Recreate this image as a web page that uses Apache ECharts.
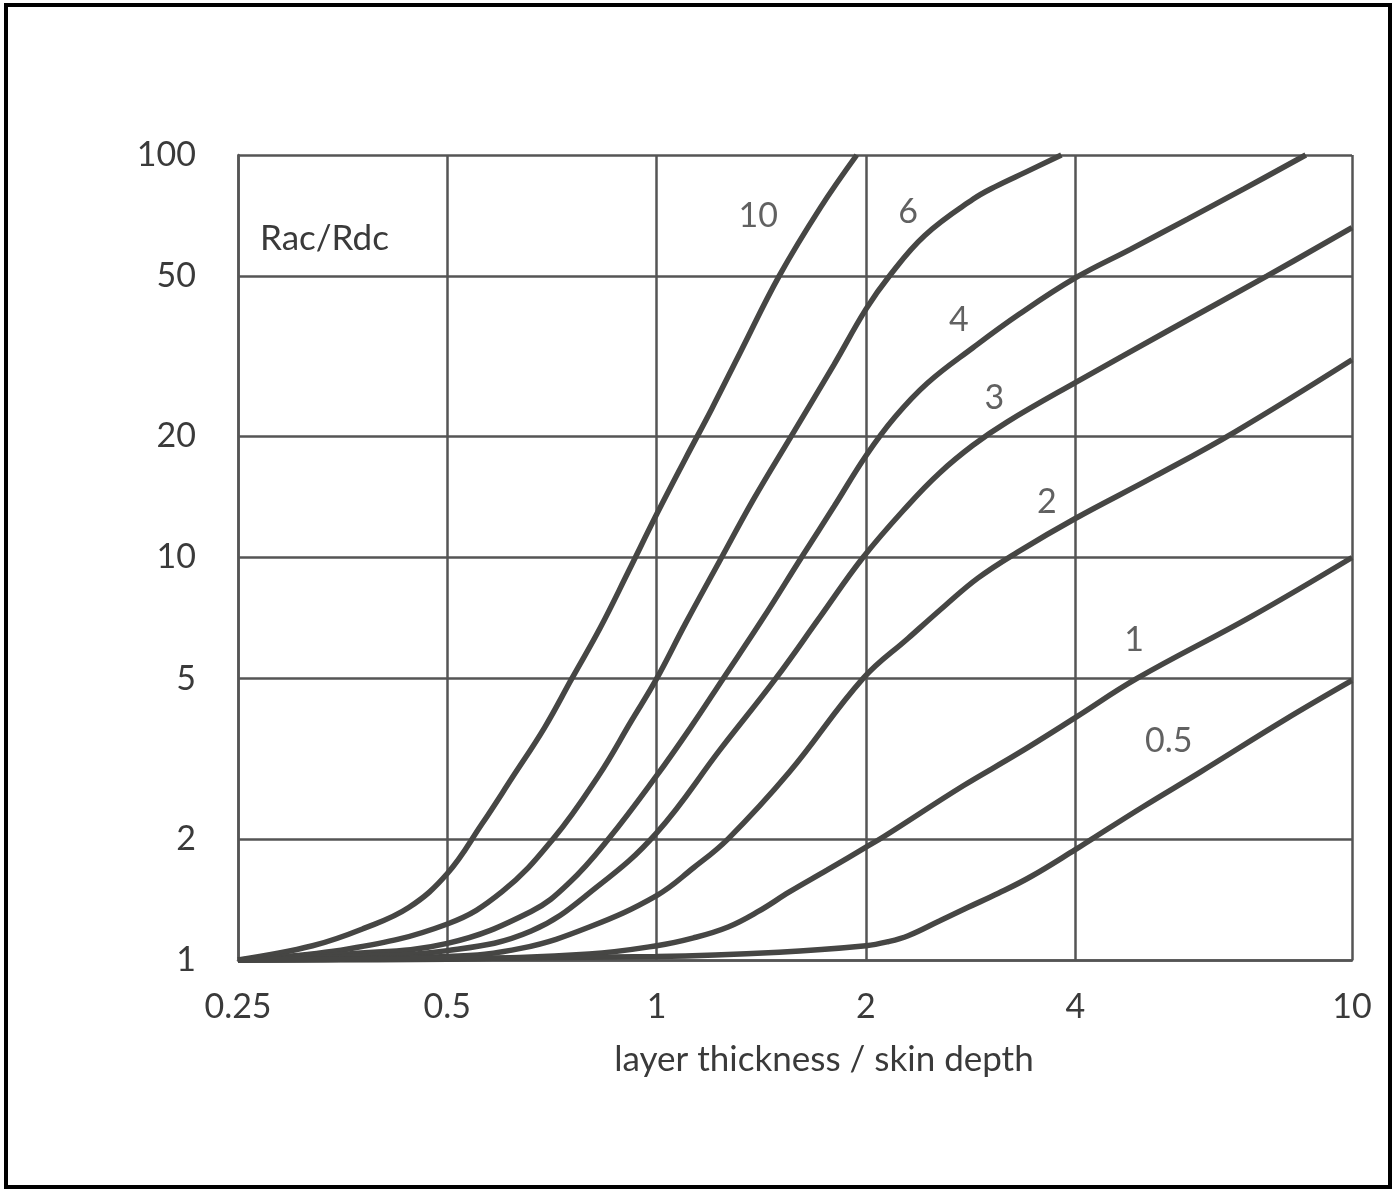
<!DOCTYPE html>
<html>
<head>
<meta charset="utf-8">
<script src="https://cdn.jsdelivr.net/npm/echarts@6/dist/echarts.min.js"></script>
<style>
  html, body { margin: 0; padding: 0; background: #ffffff; }
  #chart { width: 1395px; height: 1191px; }
</style>
</head>
<body>
<div id="chart"></div>
<script>
// ---- Data ----
const xTicks = [0.25, 0.5, 1, 2, 4, 10];
const yTicks = [1, 2, 5, 10, 20, 50, 100];

const curveNames = ['10', '6', '4', '3', '2', '1', '0.5'];

const x10 = [0.25, 0.32, 0.38, 0.44, 0.5, 0.56, 0.62, 0.69, 0.755, 0.83, 0.91, 1.0, 1.1, 1.2, 1.32, 1.5, 1.72, 1.94];
const y10 = [1, 1.085, 1.2, 1.35, 1.64, 2.17, 2.84, 3.78, 5, 6.7, 9.2, 12.8, 17.6, 23.4, 32.4, 50, 74, 100];

const x6 = [0.25, 0.36, 0.5, 0.6, 0.71, 0.825, 0.92, 1.0, 1.1, 1.232, 1.38, 1.561, 1.8, 2.0, 2.16, 2.43, 2.85, 3.08, 3.4, 3.82];
const y6 = [1, 1.065, 1.229, 1.48, 2, 2.87, 3.93, 5, 6.85, 9.8, 14, 20, 30.2, 41.4, 50, 63.1, 77.6, 83.7, 90.8, 100];

const x4 = [0.25, 0.36, 0.5, 0.66, 0.75, 0.853, 1.0, 1.12, 1.246, 1.42, 1.615, 1.8, 2.0, 2.2, 2.45, 2.85, 3.32, 4.0, 4.8, 5.8, 7.0, 8.58];
const y4 = [1, 1.035, 1.10, 1.32, 1.56, 2, 2.87, 3.79, 5, 7.03, 10, 13.4, 17.9, 22.3, 27.1, 33.2, 40.2, 49.5, 58.3, 69.3, 82.5, 100];

const x3 = [0.25, 0.36, 0.5, 0.66, 0.825, 1.0, 1.237, 1.483, 1.72, 1.98, 2.3, 2.55, 2.85, 3.19, 4.0, 5.47, 7.54, 10];
const y3 = [1, 1.02, 1.055, 1.18, 1.53, 2.07, 3.35, 5, 7.14, 10, 13.5, 16.2, 19, 21.7, 27.2, 36.8, 50, 66];

const x2 = [0.25, 0.5, 0.64, 0.8, 1.0, 1.13, 1.267, 1.552, 1.98, 2.3, 2.6, 2.9, 3.3, 4.0, 5.2, 6.78, 10];
const y2 = [1, 1.02, 1.07, 1.208, 1.446, 1.695, 2, 2.93, 5, 6.3, 7.6, 8.9, 10.3, 12.5, 15.9, 20.5, 31];

const x1 = [0.25, 0.5, 0.8, 1.0, 1.13, 1.267, 1.4, 1.552, 1.76, 2.0, 2.12, 2.76, 3.3, 4.0, 4.9, 7.16, 10];
const y1 = [1, 1.005, 1.035, 1.085, 1.135, 1.208, 1.32, 1.476, 1.674, 1.907, 2.024, 2.71, 3.25, 4.0, 5, 7.13, 10];

const x05 = [0.25, 1.0, 1.5, 2.0, 2.15, 2.3, 2.55, 2.8, 3.1, 3.45, 4.0, 4.23, 5.0, 6.05, 8.0, 10];
const y05 = [1, 1.02, 1.045, 1.085, 1.11, 1.149, 1.25, 1.35, 1.465, 1.61, 1.88, 2.0, 2.4, 2.93, 3.95, 4.95];

// curve label positions (data coordinates)
const labelX = [1.40, 2.30, 2.72, 3.06, 3.64, 4.86, 5.45];
const labelY = [70.5, 72.2, 39, 24.9, 13.7, 6.23, 3.49];

const xName = 'layer thickness / skin depth';
const yName = 'Rac/Rdc';

// ---- Build ----
const curvesX = [x10, x6, x4, x3, x2, x1, x05];
const curvesY = [y10, y6, y4, y3, y2, y1, y05];

const FONT = 'Lato';
const TEXT = '#3a3a3a';
const LINE = '#464644';
const GRID = '#555555';

const series = curveNames.map((n, i) => ({
  name: n,
  type: 'line',
  data: curvesX[i].map((x, j) => [x, curvesY[i][j]]),
  showSymbol: false,
  symbol: 'none',
  smooth: 0.4,
  clip: false,
  lineStyle: { color: LINE, width: 5.5 },
  z: 3
}));

series.push({
  name: 'labels',
  type: 'scatter',
  symbolSize: 1,
  itemStyle: { color: 'rgba(0,0,0,0)' },
  data: curveNames.map((n, i) => [labelX[i], labelY[i], n]),
  label: {
    show: true,
    position: 'inside',
    formatter: p => p.data[2],
    color: TEXT,
    fontFamily: FONT,
    fontSize: 34
  },
  z: 4
});

const chart = echarts.init(document.getElementById('chart'), null, { renderer: 'canvas' });
chart.setOption({
  backgroundColor: '#ffffff',
  animation: false,
  title: {
    text: yName,
    left: 260,
    top: 221,
    padding: 0,
    textStyle: { color: TEXT, fontFamily: FONT, fontSize: 35, fontWeight: 'normal' }
  },
  graphic: [{
    type: 'rect',
    shape: { x: 6, y: 5, width: 1384, height: 1182 },
    style: { fill: 'none', stroke: '#000000', lineWidth: 4 },
    silent: true
  }],
  grid: { left: 238, top: 155, width: 1114, height: 805, show: false },
  xAxis: {
    type: 'log',
    logBase: 2,
    min: 0.25,
    max: 10,
    name: xName,
    nameLocation: 'middle',
    nameGap: 82,
    nameTextStyle: { color: TEXT, fontFamily: FONT, fontSize: 35, padding: [0, 0, 0, 58] },
    axisLine: { show: true, lineStyle: { color: GRID, width: 2.5 } },
    axisTick: { show: false, customValues: xTicks },
    axisLabel: {
      customValues: xTicks,
      formatter: v => String(v),
      color: TEXT, fontFamily: FONT, fontSize: 34, margin: 30
    },
    splitLine: { show: true, lineStyle: { color: GRID, width: 2.5 } }
  },
  yAxis: {
    type: 'log',
    logBase: 10,
    min: 1,
    max: 100,
    axisLine: { show: true, lineStyle: { color: GRID, width: 2.5 } },
    axisTick: { show: false, customValues: yTicks },
    axisLabel: {
      customValues: yTicks,
      formatter: v => String(v),
      color: TEXT, fontFamily: FONT, fontSize: 34, margin: 42
    },
    splitLine: { show: true, lineStyle: { color: GRID, width: 2.5 } }
  },
  series: series
});
</script>
</body>
</html>
